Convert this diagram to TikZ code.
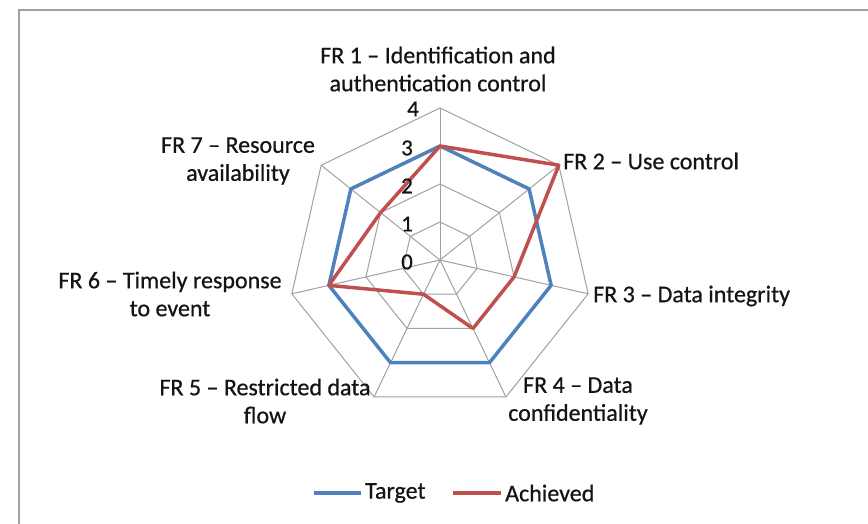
\documentclass[tikz,border=0pt]{standalone}
\usepackage{fontspec}
\setmainfont{Carlito}
\newfontfamily\labelfont{Carlito}[FakeBold=0.6]
\definecolor{tblue}{HTML}{4F81BD}
\definecolor{ared}{HTML}{C0504D}
\definecolor{gridgray}{HTML}{A0A0A0}
\definecolor{framegray}{HTML}{A0A0A0}
\tikzset{
  gridline/.style={draw=gridgray, line width=1pt},
  frameline/.style={draw=framegray, line width=1.5pt},
  tgtline/.style={draw=tblue, line width=3.5pt, line join=round},
  achline/.style={draw=ared, line width=3.5pt, line join=round},
  lbl/.style={font=\labelfont\fontsize{24}{28}\selectfont, text=black!92, align=center, inner sep=0pt},
  ticklbl/.style={font=\labelfont\fontsize{23}{24}\selectfont, text=black!92, inner sep=0pt},
}
\begin{document}
\begin{tikzpicture}[x=1pt,y=-1pt]
\useasboundingbox (0,0) rectangle (868,524);
\draw[frameline] (19,524) |- (868,10);
\coordinate (c) at (440,260);
\foreach \k in {0,...,6}{
  \foreach \l in {1,...,4}{
    \coordinate (g\k-\l) at ({440+38*\l*sin(\k*360/7)},{260-38*\l*cos(\k*360/7)});
  }
}
% grid polygons
\foreach \l in {1,...,4}{
  \draw[gridline] (g0-\l) -- (g1-\l) -- (g2-\l) -- (g3-\l) -- (g4-\l) -- (g5-\l) -- (g6-\l) -- cycle;
}
\foreach \k in {0,...,6}{
  \draw[gridline] (c) -- (g\k-4);
}
% data
\draw[tgtline] (g0-3) -- (g1-3) -- (g2-3) -- (g3-3) -- (g4-3) -- (g5-3) -- (g6-3) -- cycle;
\draw[achline] (g0-3) -- (g1-4) -- (g2-2) -- (g3-2) -- (g4-1) -- (g5-3) -- (g6-2) -- cycle;
% tick labels
\node[ticklbl] (t4) at (413,109) {4};
\node[ticklbl] (t3) at (407,148) {3};
\node[ticklbl] (t2) at (407,186) {2};
\node[ticklbl] (t1) at (407,224) {1};
\node[ticklbl] (t0) at (407,262) {0};
% axis labels
\node[lbl] (fr1) at (438,69) {FR 1 – Identification and\\authentication control};
\node[lbl, anchor=west] (fr2) at (563,161) {FR 2 – Use control};
\node[lbl, anchor=west] (fr3) at (593,296) {FR 3 – Data integrity};
\node[lbl] (fr4) at (578,401) {FR 4 – Data\\confidentiality};
\node[lbl] (fr5) at (265,401) {FR 5 – Restricted data\\flow};
\node[lbl] (fr6) at (170,294) {FR 6 – Timely response\\to event};
\node[lbl] (fr7) at (238,161) {FR 7 – Resource\\availability};
% legend
\coordinate (lb1) at (314,493);
\coordinate (lb2) at (361,493);
\draw[draw=tblue, line width=3.5pt] (lb1) -- (lb2);
\node[lbl, anchor=west] (lt) at (365,493) {Target};
\coordinate (lr1) at (453,493);
\coordinate (lr2) at (501,493);
\draw[draw=ared, line width=3.5pt] (lr1) -- (lr2);
\node[lbl, anchor=west] (la) at (505,493) {Achieved};
\end{tikzpicture}
\end{document}
